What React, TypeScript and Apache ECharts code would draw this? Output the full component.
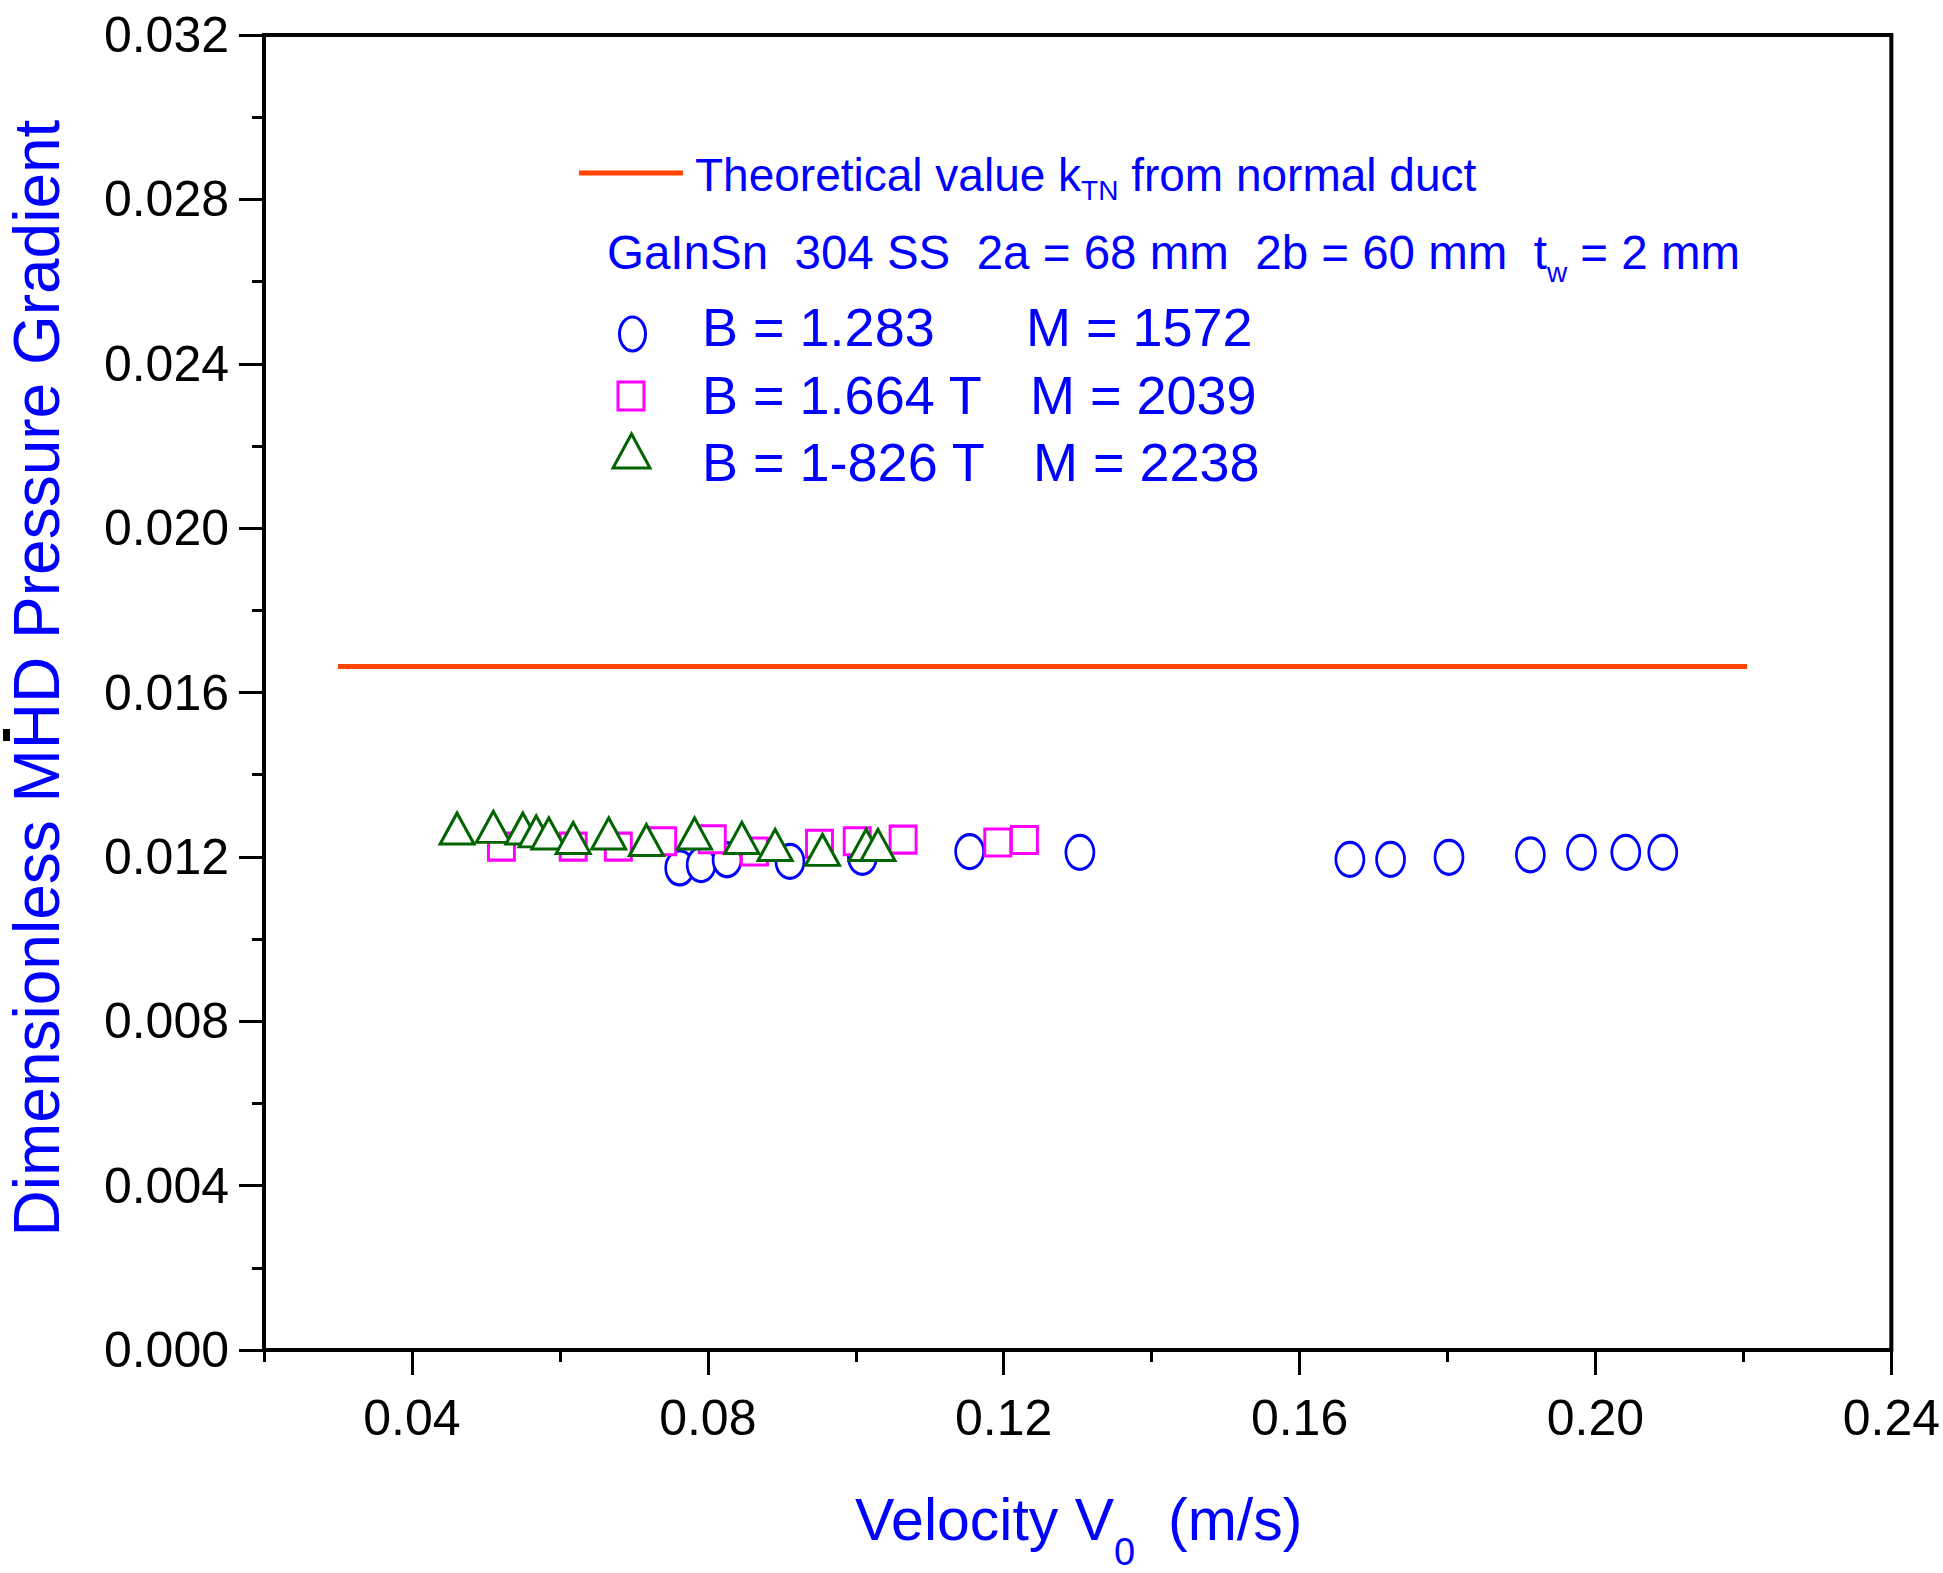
import React, { useEffect, useRef } from 'react';
import * as echarts from 'echarts';

// ---- data ----
const xTickValues = [0.04, 0.08, 0.12, 0.16, 0.2, 0.24];
const xMinorTickValues = [0.02, 0.06, 0.1, 0.14, 0.18, 0.22];

const circleX = [0.0762, 0.0791, 0.0826, 0.0911, 0.1009, 0.1154, 0.1303, 0.1668, 0.1723, 0.1802, 0.1912, 0.1981, 0.2041, 0.2091];
const circleY = [0.01173, 0.01181, 0.01193, 0.01189, 0.01199, 0.01213, 0.01211, 0.01194, 0.01194, 0.01199, 0.01205, 0.01211, 0.01211, 0.01211];

const squareX = [0.0521, 0.0618, 0.0679, 0.0739, 0.0806, 0.0863, 0.0951, 0.1002, 0.1064, 0.1192, 0.1228];
const squareY = [0.01225, 0.01225, 0.01225, 0.01238, 0.01243, 0.01213, 0.01232, 0.01238, 0.01242, 0.01235, 0.01241];

const triangleX = [0.0461, 0.051, 0.055, 0.0568, 0.0585, 0.0618, 0.0666, 0.0717, 0.0782, 0.0846, 0.0891, 0.0955, 0.1014, 0.103];
const triangleY = [0.01269, 0.01273, 0.01269, 0.01262, 0.01257, 0.01246, 0.01257, 0.01241, 0.01257, 0.01246, 0.01229, 0.01217, 0.01229, 0.01229];

const theoryX = [0.03, 0.2205];
const theoryY = [0.01663, 0.01663];

const FONT = '"Liberation Sans", Arial, Helvetica, sans-serif';
const BLUE = '#0000ff';
const ORANGE = '#ff4500';
const MAGENTA = '#ff00ff';
const GREEN = '#006400';
const ELLIPSE = 'path://M0,50 A36,50 0 1,1 72,50 A36,50 0 1,1 0,50 Z';

const zip = (xs: number[], ys: number[]) => xs.map((x, i) => [x, ys[i]]);

export default function App() {
  const ref = useRef<HTMLDivElement>(null);
  useEffect(() => {
    if (!ref.current) return;
    const chart = echarts.init(ref.current, null, { renderer: 'svg' });
    const option: any = {
      animation: false,
      backgroundColor: '#ffffff',
      grid: {
        left: 264,
        right: 51,
        top: 35,
        bottom: 223,
        show: true,
        borderColor: '#000',
        borderWidth: 4,
        backgroundColor: 'transparent',
      },
      xAxis: [
        {
          type: 'value',
          min: 0.02,
          max: 0.24,
          position: 'bottom',
          axisLine: { show: true, onZero: false, lineStyle: { color: '#000', width: 4 } },
          axisTick: { show: true, customValues: xTickValues, length: 25, lineStyle: { color: '#000', width: 3 } },
          axisLabel: {
            show: true,
            customValues: xTickValues,
            formatter: (v: number) => v.toFixed(2),
            fontSize: 50,
            fontFamily: FONT,
            color: '#000',
            margin: 43,
          },
          splitLine: { show: false },
        },
        {
          type: 'value',
          min: 0.02,
          max: 0.24,
          position: 'bottom',
          axisLine: { show: false, onZero: false },
          axisTick: { show: true, customValues: xMinorTickValues, length: 12, lineStyle: { color: '#000', width: 3 } },
          axisLabel: { show: false },
          splitLine: { show: false },
        },
      ],
      yAxis: {
        type: 'value',
        min: 0,
        max: 0.032,
        interval: 0.004,
        axisLine: { show: true, onZero: false, lineStyle: { color: '#000', width: 4 } },
        axisTick: { show: true, length: 25, lineStyle: { color: '#000', width: 3 } },
        minorTick: { show: true, splitNumber: 2, length: 12, lineStyle: { color: '#000', width: 3 } },
        axisLabel: {
          formatter: (v: number) => v.toFixed(3),
          fontSize: 50,
          fontFamily: FONT,
          color: '#000',
          margin: 35,
        },
        splitLine: { show: false },
        minorSplitLine: { show: false },
      },
      series: [
        {
          type: 'line',
          data: zip(theoryX, theoryY),
          symbol: 'none',
          lineStyle: { color: ORANGE, width: 5 },
          silent: true,
        },
        {
          type: 'scatter',
          data: zip(circleX, circleY),
          symbol: ELLIPSE,
          symbolSize: [28, 34],
          itemStyle: { color: '#ffffff', borderColor: BLUE, borderWidth: 3, opacity: 1 },
        },
        {
          type: 'scatter',
          data: zip(squareX, squareY),
          symbol: 'rect',
          symbolSize: [26, 27],
          itemStyle: { color: '#ffffff', borderColor: MAGENTA, borderWidth: 3, opacity: 1 },
        },
        {
          type: 'scatter',
          data: zip(triangleX, triangleY),
          symbol: 'triangle',
          symbolSize: [34, 31],
          itemStyle: { color: '#ffffff', borderColor: GREEN, borderWidth: 3, opacity: 1 },
        },
      ],
      graphic: [
        {
          type: 'text',
          x: 37,
          y: 678,
          rotation: Math.PI / 2,
          style: {
            text: 'Dimensionless MHD Pressure Gradient',
            fontSize: 64,
            fontFamily: FONT,
            fill: BLUE,
            textAlign: 'center',
            textVerticalAlign: 'middle',
          },
        },
        { type: 'rect', shape: { x: 3, y: 729, width: 7, height: 12 }, style: { fill: '#000' } },
        {
          type: 'text',
          x: 855,
          y: 1520,
          style: {
            text: 'Velocity V{sub|0}  (m/s)',
            fontSize: 59,
            fontFamily: FONT,
            fill: BLUE,
            textAlign: 'left',
            textVerticalAlign: 'middle',
            rich: {
              sub: { fontSize: 38, fontFamily: FONT, fill: BLUE, padding: [64, 0, 0, 0] },
            },
          },
        },
        {
          type: 'line',
          shape: { x1: 579, y1: 173, x2: 683, y2: 173 },
          style: { stroke: ORANGE, lineWidth: 5 },
        },
        {
          type: 'text',
          x: 695,
          y: 175,
          style: {
            text: 'Theoretical value k{sub|TN} from normal duct',
            fontSize: 46,
            fontFamily: FONT,
            fill: BLUE,
            textAlign: 'left',
            textVerticalAlign: 'middle',
            rich: {
              sub: { fontSize: 28, fontFamily: FONT, fill: BLUE, padding: [30, 0, 0, 0] },
            },
          },
        },
        {
          type: 'text',
          x: 607,
          y: 252,
          style: {
            text: 'GaInSn  304 SS  2a = 68 mm  2b = 60 mm  t{sub|w} = 2 mm',
            fontSize: 47.5,
            fontFamily: FONT,
            fill: BLUE,
            textAlign: 'left',
            textVerticalAlign: 'middle',
            rich: {
              sub: { fontSize: 28, fontFamily: FONT, fill: BLUE, padding: [40, 0, 0, 0] },
            },
          },
        },
        {
          type: 'ellipse',
          shape: { cx: 632.5, cy: 334, rx: 13, ry: 17 },
          style: { fill: '#fff', stroke: BLUE, lineWidth: 3 },
        },
        {
          type: 'rect',
          shape: { x: 618, y: 382, width: 26, height: 28 },
          style: { fill: '#fff', stroke: MAGENTA, lineWidth: 3 },
        },
        {
          type: 'polygon',
          shape: { points: [[613, 468], [650, 468], [631.5, 434]] },
          style: { fill: '#fff', stroke: GREEN, lineWidth: 3 },
        },
        { type: 'text', x: 702, y: 327, style: { text: 'B = 1.283', fontSize: 54, fontFamily: FONT, fill: BLUE, textAlign: 'left', textVerticalAlign: 'middle' } },
        { type: 'text', x: 1026, y: 327, style: { text: 'M = 1572', fontSize: 54, fontFamily: FONT, fill: BLUE, textAlign: 'left', textVerticalAlign: 'middle' } },
        { type: 'text', x: 702, y: 395, style: { text: 'B = 1.664 T', fontSize: 54, fontFamily: FONT, fill: BLUE, textAlign: 'left', textVerticalAlign: 'middle' } },
        { type: 'text', x: 1030, y: 395, style: { text: 'M = 2039', fontSize: 54, fontFamily: FONT, fill: BLUE, textAlign: 'left', textVerticalAlign: 'middle' } },
        { type: 'text', x: 702, y: 462, style: { text: 'B = 1-826 T', fontSize: 54, fontFamily: FONT, fill: BLUE, textAlign: 'left', textVerticalAlign: 'middle' } },
        { type: 'text', x: 1033, y: 462, style: { text: 'M = 2238', fontSize: 54, fontFamily: FONT, fill: BLUE, textAlign: 'left', textVerticalAlign: 'middle' } },
      ],
    };
    chart.setOption(option);
    return () => chart.dispose();
  }, []);
  return (
    <div
      ref={ref}
      style={{ position: 'fixed', left: 0, top: 0, width: 1943, height: 1573, background: '#fff' }}
    />
  );
}
